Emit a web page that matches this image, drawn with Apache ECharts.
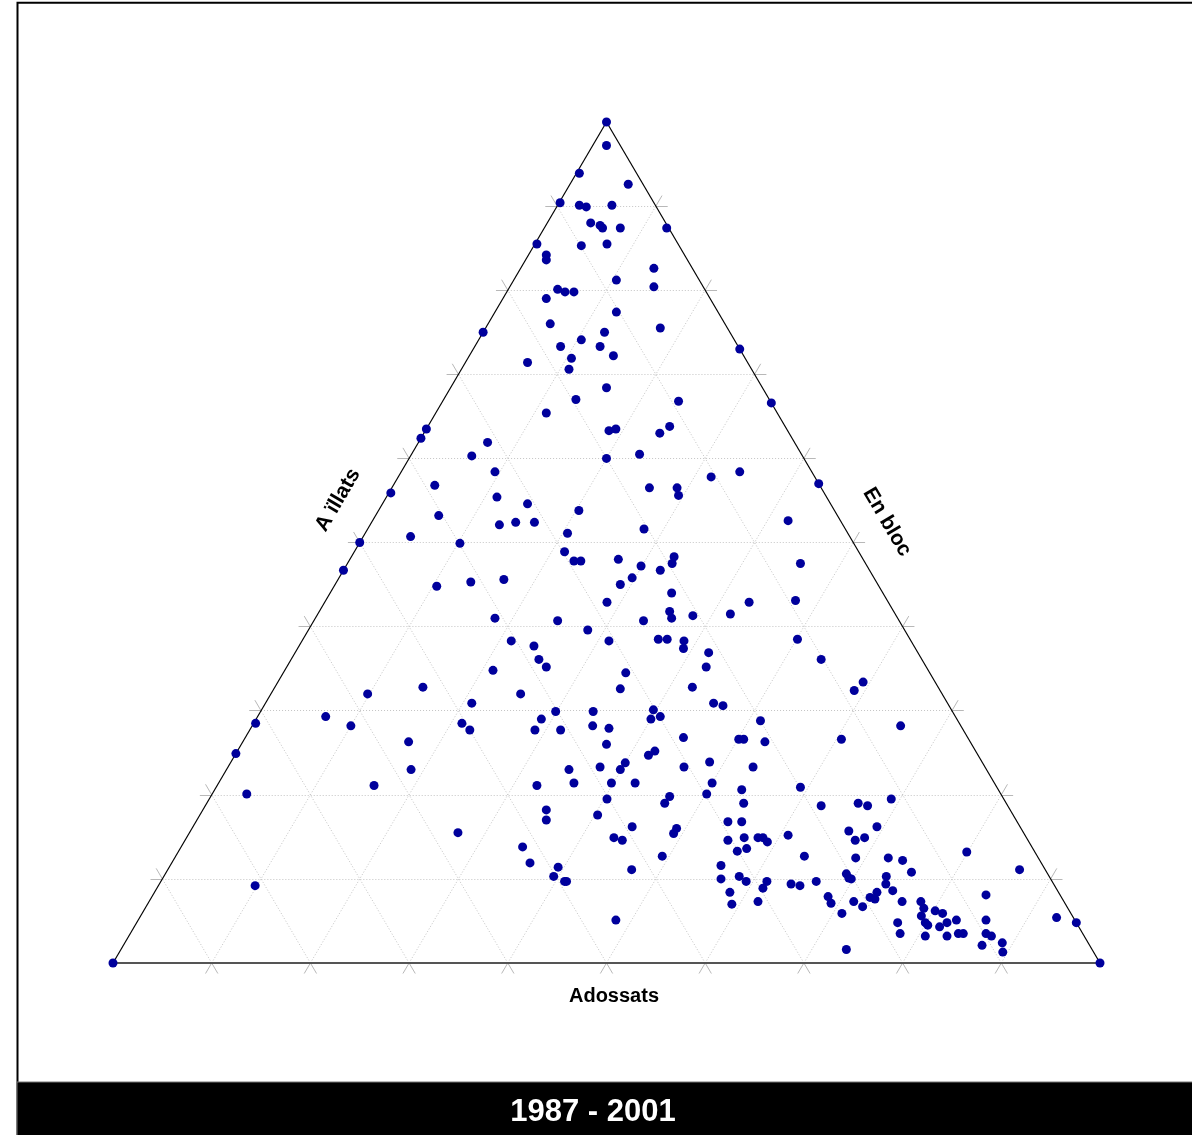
<!DOCTYPE html>
<html>
<head>
<meta charset="utf-8">
<script src="https://cdn.jsdelivr.net/npm/echarts@6/dist/echarts.min.js"></script>
<style>html,body{margin:0;padding:0;background:#fff}#c{width:1192px;height:1135px}</style>
</head>
<body>
<div id="c"></div>
<script>
// Ternary compositions (percent). Vertices: En bloc = top, Aïllats = bottom-right, Adossats = bottom-left
const enBloc = [
100,97.2,93.9,92.6,90.4,90.1,89.9,90.1,88.0,87.7,
87.4,87.4,87.4,85.5,85.3,85.5,84.2,83.6,82.6,81.2,
80.4,80.1,79.8,79.8,79.0,77.4,76.0,75.0,75.0,75.5,
74.1,73.3,73.3,72.2,73.0,71.4,71.9,70.6,68.4,67.0,
66.8,66.6,65.4,63.3,63.5,63.5,62.4,61.9,60.3,60.0,
58.4,56.8,55.9,55.4,54.6,53.8,53.2,52.1,52.4,52.4,
51.1,50.7,50.0,49.9,48.9,47.8,47.8,46.7,44.8,45.3,
45.6,42.9,41.0,40.7,39.6,38.3,38.3,37.7,36.1,35.2,
34.8,32.8,63.0,63.8,60.5,57.8,58.4,56.5,56.5,55.6,
57.0,52.6,51.6,48.0,47.2,45.8,45.0,46.7,48.3,47.5,
47.5,44.0,43.1,42.9,41.5,40.7,41.8,41.0,41.3,38.5,
38.5,38.3,37.4,38.5,36.9,35.2,36.1,34.5,32.6,32.8,
33.4,32.4,32.0,28.5,29.3,28.2,24.9,26.3,23.0,21.1,
20.1,9.2,0,32.0,30.9,28.5,27.7,29.0,29.9,27.7,
27.7,29.9,28.2,27.9,26.0,30.1,29.0,29.3,30.9,30.6,
28.8,26.8,26.6,26.6,26.3,24.7,25.2,23.8,23.0,23.3,
23.0,21.4,21.1,21.4,21.4,23.3,23.9,23.3,21.4,20.1,
20.6,19.0,19.8,19.0,19.5,17.6,18.2,17.0,15.5,16.2,
14.9,14.6,16.0,15.4,16.8,16.8,14.6,14.9,13.3,13.6,
14.9,14.9,14.4,13.8,11.9,11.4,10.3,9.7,9.7,11.1,
12.7,11.6,10.0,10.3,9.7,9.7,8.9,8.4,7.0,7.3,5.1,
28.2,26.6,20.9,18.7,19.0,18.7,19.5,15.2,15.7,14.6,
14.9,16.2,12.7,12.5,12.5,12.2,10.8,13.2,11.1,9.4,
9.2,9.7,10.6,10.1,10.0,10.3,9.4,8.6,7.9,7.1,
7.3,6.7,5.9,7.8,7.6,8.4,7.3,7.3,6.5,5.6,
6.2,5.9,4.8,4.5,4.3,4.8,5.1,4.8,3.5,3.2,
3.2,3.5,3.5,8.1,5.1,3.5,3.2,2.1,2.4,1.3,5.4,4.8,1.6,0
];
const aillats = [
0,1.4,0.3,5.9,0.1,2.2,3.0,5.5,4.4,5.5,
5.9,7.7,12.4,0.2,4.8,7.3,1.8,2.1,13.5,10.4,
14.6,5.0,5.9,6.8,4.4,12.3,6.3,0,12.3,17.7,
10.4,8.7,12.7,14.6,27.0,6.3,10.5,10.9,15.8,13.4,
23.9,33.4,11.2,18.6,19.2,0,0,7.0,6.2,20.0,
9.5,4.2,0.2,11.2,14.7,20.3,6.4,13.1,14.6,16.5,
20.5,4.8,0,10.2,21.3,22.8,23.5,0,10.4,13.6,
16.8,28.6,18.2,24.7,28.3,31.1,21.2,23.8,25.1,26.3,
21.1,15.0,23.9,24.5,23.1,31.7,34.3,26.1,28.9,29.5,
43.0,42.1,28.0,27.2,29.9,29.7,28.9,32.1,32.7,32.9,
45.9,34.6,47.6,43.0,41.8,33.4,35.5,36.1,38.1,36.0,
36.9,38.7,39.1,50.1,41.9,42.5,53.7,34.7,35.1,42.3,
59.3,58.9,9.8,0.2,6.9,10.0,0,16.8,18.7,15.9,
3.5,9.8,0,25.3,20.9,21.1,22.3,28.9,29.9,28.9,
31.5,33.7,34.5,36.3,37.0,39.7,40.0,40.8,45.4,46.5,
51.2,44.4,50.1,50.6,52.9,41.9,42.3,40.0,39.9,37.7,
34.7,36.0,32.4,39.8,42.2,46.2,48.5,53.2,50.0,50.1,
53.4,54.4,46.5,46.4,40.3,40.3,34.8,35.4,27.2,44.5,
43.3,44.3,49.1,49.1,53.9,55.3,55.0,56.5,56.6,57.4,
57.9,58.4,59.1,34.6,36.3,39.4,39.5,40.9,41.1,47.0,
49.3,55.8,56.6,58.3,59.3,61.4,61.4,58.3,59.2,61.7,48.4,
65.7,60.5,59.2,62.4,66.0,67.1,69.1,60.8,66.7,67.9,
68.7,69.3,63.7,69.0,72.3,73.9,75.5,79.9,86.3,64.0,
65.0,66.4,69.0,69.5,69.8,73.2,73.6,74.7,68.5,69.2,
71.4,72.6,70.9,72.8,73.4,73.2,76.3,78.2,78.9,79.1,
80.2,81.1,79.9,80.3,81.6,82.1,82.9,77.1,78.0,80.7,
82.9,83.9,84.4,84.4,85.9,86.7,87.4,87.0,88.9,89.5,92.9,95.2,73.5,100
];
const adossats = [
0,1.4,5.8,1.5,9.5,7.7,7.1,4.4,7.6,6.8,
6.7,4.9,0.2,14.3,9.9,7.2,14.0,14.3,3.9,8.4,
5.0,14.9,14.3,13.4,16.6,10.3,17.7,25.0,12.7,6.8,
15.5,18.0,14.0,13.2,0,22.3,17.6,18.5,15.8,19.6,
9.3,0,23.4,18.1,17.3,36.5,37.6,31.1,33.5,20.0,
32.1,39.0,43.9,33.4,30.7,25.9,40.4,34.8,33.0,31.1,
28.4,44.5,50.0,39.9,29.8,29.4,28.7,53.3,44.8,41.1,
37.6,28.5,40.8,34.6,32.1,30.6,40.5,38.5,38.8,38.5,
44.1,52.2,13.1,11.7,16.4,10.5,7.3,17.4,14.6,14.9,
0,5.3,20.4,24.8,22.9,24.5,26.1,21.2,19.0,19.6,
6.6,21.4,9.3,14.1,16.7,25.9,22.7,22.9,20.6,25.5,
24.6,23.0,23.5,11.4,21.2,22.3,10.2,30.8,32.3,24.9,
7.3,8.7,58.2,71.3,63.8,61.8,75.1,56.9,58.3,63.0,
76.4,81.0,100,42.7,48.2,50.4,50.0,42.1,40.2,43.4,
40.8,36.4,37.3,35.8,37.0,30.2,31.0,29.9,23.7,22.9,
20.0,28.8,23.3,22.8,20.8,33.4,32.5,36.2,37.1,39.0,
42.3,42.6,46.5,38.8,36.4,30.5,27.6,23.5,28.6,29.8,
26.0,26.6,33.7,34.6,40.2,42.1,47.0,47.6,57.3,39.3,
41.8,41.1,34.9,35.5,29.3,27.9,30.4,28.6,30.1,29.0,
27.2,26.7,26.5,51.6,51.8,49.2,50.2,49.4,49.2,41.9,
38.0,32.6,33.4,31.4,31.0,28.9,29.7,33.3,33.8,31.0,46.5,
6.1,12.9,19.9,18.9,15.0,14.2,11.4,24.0,17.6,17.5,
16.4,14.5,23.6,18.5,15.2,13.9,13.7,6.9,2.6,26.6,
25.8,23.9,20.4,20.4,20.2,16.5,17.0,16.7,23.6,23.7,
21.3,20.7,23.2,19.4,19.0,18.4,16.4,14.5,14.6,15.3,
13.6,13.0,15.3,15.2,14.1,13.1,12.0,18.1,18.5,16.1,
13.9,12.6,12.1,7.5,9.0,9.8,9.4,10.9,8.7,9.2,1.7,0,24.9,0
];
const gridSteps = [10,20,30,40,50,60,70,80,90];
const labelBottom = 'Adossats';
const labelLeft = 'A ïllats';
const labelRight = 'En bloc';
const titleText = '1987 - 2001';

// ternary -> cartesian (x: 0..100 across base, y: 0..100 of height)
function toXY(l, t, r) {
  const s = l + t + r;
  return [(r + t / 2) / s * 100, t / s * 100];
}

const points = enBloc.map((t, i) => toXY(adossats[i], t, aillats[i]));

const gridLines = [];
gridSteps.forEach(s => {
  gridLines.push({coords: [[s / 2, s], [100 - s / 2, s]]});            // constant En bloc
  gridLines.push({coords: [[s, 0], [s + (100 - s) / 2, 100 - s]]});      // constant Aïllats
  gridLines.push({coords: [[100 - s, 0], [(100 - s) / 2, 100 - s]]});    // constant Adossats
});

const e = 1.25, d = 1.2;
const ticks = [];
gridSteps.forEach(s => {
  ticks.push({coords: [[s, 0], [s - 0.5 * e, -e]]});
  ticks.push({coords: [[s, 0], [s + 0.5 * e, -e]]});
  ticks.push({coords: [[s / 2, s], [s / 2 - d, s]]});
  ticks.push({coords: [[s / 2, s], [s / 2 - 0.5 * e, s + e]]});
  ticks.push({coords: [[100 - s / 2, s], [100 - s / 2 + d, s]]});
  ticks.push({coords: [[100 - s / 2, s], [100 - s / 2 + 0.5 * e, s + e]]});
});

const chart = echarts.init(document.getElementById('c'), null, {renderer: 'canvas'});
const FONT = '"Liberation Sans", Arial, Helvetica, sans-serif';

chart.setOption({
  animation: false,
  backgroundColor: '#fff',
  grid: {left: 113, top: 122, width: 987, height: 841, containLabel: false},
  xAxis: {type: 'value', min: 0, max: 100, show: false},
  yAxis: {type: 'value', min: 0, max: 100, show: false},
  series: [
    {
      type: 'lines', coordinateSystem: 'cartesian2d', silent: true, clip: false, z: 1,
      lineStyle: {color: '#c4c4c4', width: 1, type: [1, 2], opacity: 1},
      data: gridLines
    },
    {
      type: 'lines', coordinateSystem: 'cartesian2d', silent: true, clip: false, z: 2,
      lineStyle: {color: '#b8b8b8', width: 1, type: 'solid', opacity: 1},
      data: ticks
    },
    {
      type: 'lines', coordinateSystem: 'cartesian2d', silent: true, clip: false, z: 3,
      lineStyle: {color: '#000', width: 1.2, opacity: 1},
      data: [{coords: [[0, 0], [50, 100]]}, {coords: [[50, 100], [100, 0]]}]
    },
    {
      type: 'lines', coordinateSystem: 'cartesian2d', silent: true, clip: false, z: 3,
      lineStyle: {color: '#555', width: 2, opacity: 1},
      data: [{coords: [[0, 0], [100, 0]]}]
    },
    {
      type: 'scatter', clip: false, z: 5, silent: true,
      symbol: 'circle', symbolSize: 9,
      itemStyle: {color: '#00009c', opacity: 1},
      data: points
    }
  ],
  graphic: [
    {type: 'rect', z: 0, silent: true, shape: {x: 17.5, y: 2.8, width: 1300, height: 1300},
     style: {fill: 'none', stroke: '#000', lineWidth: 2}},
    {type: 'rect', z: 10, silent: true, shape: {x: 17, y: 1082, width: 1180, height: 60},
     style: {fill: '#000', stroke: '#777', lineWidth: 1}},
    {type: 'text', z: 11, silent: true, x: 593, y: 1112,
     style: {text: titleText, font: 'bold 31px ' + FONT, fill: '#fff',
             align: 'center', verticalAlign: 'middle', textAlign: 'center', textVerticalAlign: 'middle'}},
    {type: 'text', z: 11, silent: true, x: 614, y: 996,
     style: {text: labelBottom, font: 'bold 20px ' + FONT, fill: '#000',
             align: 'center', verticalAlign: 'middle', textAlign: 'center', textVerticalAlign: 'middle'}},
    {type: 'text', z: 11, silent: true, x: 338, y: 500, rotation: 59.6 * Math.PI / 180,
     style: {text: labelLeft, font: 'bold 21px ' + FONT, fill: '#000',
             align: 'center', verticalAlign: 'middle', textAlign: 'center', textVerticalAlign: 'middle'}},
    {type: 'text', z: 11, silent: true, x: 887, y: 522, rotation: -59.6 * Math.PI / 180,
     style: {text: labelRight, font: 'bold 21px ' + FONT, fill: '#000',
             align: 'center', verticalAlign: 'middle', textAlign: 'center', textVerticalAlign: 'middle'}}
  ]
});
</script>
</body>
</html>
